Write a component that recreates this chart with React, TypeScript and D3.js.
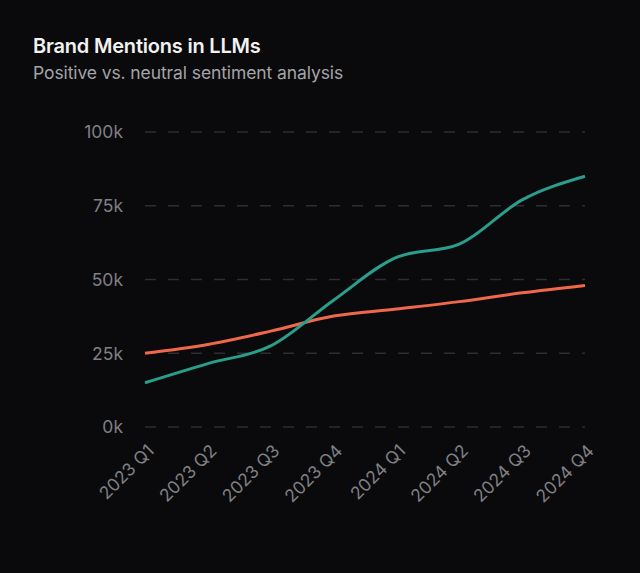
import React from "react";
import * as d3 from "d3";

const categories = ["2023 Q1", "2023 Q2", "2023 Q3", "2023 Q4", "2024 Q1", "2024 Q2", "2024 Q3", "2024 Q4"];
const positiveValues = [15000, 21500, 27500, 43000, 57500, 62000, 77000, 85000];
const neutralValues = [25000, 28000, 32500, 37600, 40000, 42500, 45500, 48000];
const yTicks = [0, 25000, 50000, 75000, 100000];

const W = 640, H = 573;
const left = 145, right = 585, top = 132, bottom = 427;

export default function App() {
  const x = d3.scalePoint<string>().domain(categories).range([left, right]);
  const y = d3.scaleLinear().domain([0, 100000]).range([bottom, top]);
  const line = d3.line<number>()
    .x((_, i) => x(categories[i]) as number)
    .y((d) => y(d))
    .curve(d3.curveMonotoneX);
  const font = "Inter, 'Noto Sans', sans-serif";
  return (
    <svg width={W} height={H} style={{ position: "absolute", left: 0, top: 0, display: "block" }}>
      <rect width={W} height={H} fill="#0a0a0c" />
      <text x={33} y={53} fill="#f2f2f2" fontFamily={font} fontSize={20} fontWeight={600} letterSpacing={-0.2}>Brand Mentions in LLMs</text>
      <text x={33} y={79} fill="#a3a3a8" fontFamily={font} fontSize={17.5} letterSpacing={-0.1}>Positive vs. neutral sentiment analysis</text>
      {yTicks.map((t) => (
        <g key={t}>
          <line x1={left} x2={right} y1={y(t)} y2={y(t)} stroke="#2e2e31" strokeWidth={1.5} strokeDasharray="11 12" />
          <text x={123} y={y(t)} dy="0.36em" textAnchor="end" fill="#808085" fontFamily={font} fontSize={17.5}>{d3.format("d")(t / 1000)}k</text>
        </g>
      ))}
      {categories.map((c) => (
        <text key={c} transform={`translate(${(x(c) as number) + 10},${bottom + 25}) rotate(-45)`} textAnchor="end" fill="#808085" fontFamily={font} fontSize={17.5}>{c}</text>
      ))}
      <path d={line(neutralValues) || ""} fill="none" stroke="#f0684a" strokeWidth={3} />
      <path d={line(positiveValues) || ""} fill="none" stroke="#2a9d8c" strokeWidth={3} />
    </svg>
  );
}
